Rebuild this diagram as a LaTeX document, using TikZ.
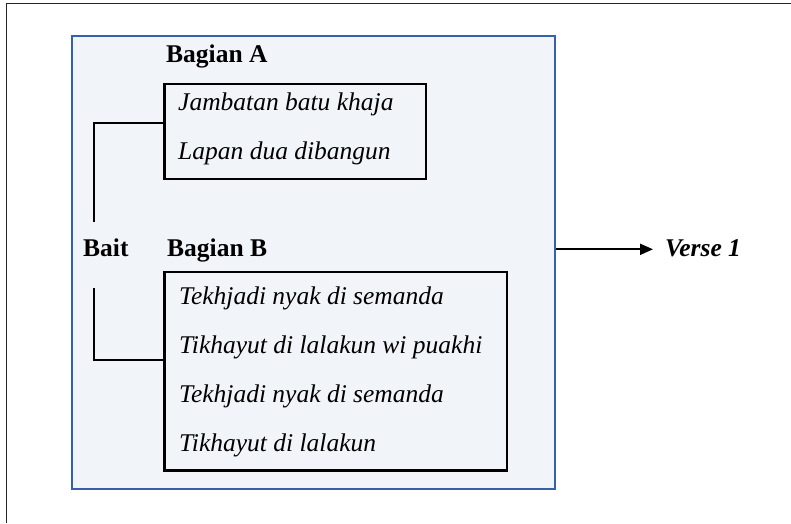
\documentclass[tikz,border=0pt]{standalone}
\usepackage{fontspec}
\setmainfont{Liberation Serif}
\usetikzlibrary{arrows.meta}
\definecolor{panelfill}{HTML}{F1F5FA}
\definecolor{panelline}{HTML}{3561A8}
\tikzset{
  panel/.style={draw=panelline, line width=2.2pt, fill=panelfill},
  linebox/.style={draw=black, line width=2.2pt},
  bracket/.style={draw=black, line width=2pt},
  verse/.style={anchor=base west, inner sep=0pt, font=\fontsize{25.5}{30}\selectfont\itshape},
  head/.style={anchor=base west, inner sep=0pt, font=\fontsize{25.5}{30}\selectfont\bfseries},
}
\begin{document}
\begin{tikzpicture}[x=1pt,y=-1pt]
  \useasboundingbox (0,0) rectangle (791,523);
  % cropped outer frame
  \draw[line width=1.6pt, black!85] (6.5,523) -- (6.5,3.5) -- (791,3.5);

  % stanza panel
  \node[panel, minimum width=483pt, minimum height=452.7pt, inner sep=0pt, anchor=north west] (panel) at (70.7,35) {};

  % part A
  \node[head] (headA) at (166,62) {Bagian A};
  \node[linebox, minimum width=261.7pt, minimum height=95pt, inner sep=0pt, anchor=north west] (boxA) at (163.3,82.5) {};
  \node[verse] (a1) at (178,110) {Jambatan batu khaja};
  \node[verse] (a2) at (178,159) {Lapan dua dibangun};

  % part B
  \node[head] (headB) at (167,256) {Bagian B};
  \node[linebox, minimum width=342.7pt, minimum height=198.6pt, inner sep=0pt, anchor=north west] (boxB) at (163.3,270.7) {};
  \node[verse] (b1) at (179,304) {Tekhjadi nyak di semanda};
  \node[verse] (b2) at (179,353) {Tikhayut di lalakun wi puakhi};
  \node[verse] (b3) at (179,402) {Tekhjadi nyak di semanda};
  \node[verse] (b4) at (179,451) {Tikhayut di lalakun};

  % stanza label and bracket
  \node[head] (bait) at (83,256) {Bait};
  \coordinate (ta) at (93.5,222);
  \coordinate (tb) at (93.5,288);
  \draw[bracket] (ta) |- (boxA.west |- 0,123);
  \draw[bracket] (tb) |- (boxB.west |- 0,360);

  % output
  \node[anchor=base west, inner sep=0pt, font=\fontsize{25.5}{30}\selectfont\bfseries\itshape] (out) at (665,256) {Verse 1};
  \draw[line width=2pt, -{Triangle[length=13pt,width=11pt]}] (panel.east |- 0,249.3) -- (653,249.3);
\end{tikzpicture}
\end{document}
